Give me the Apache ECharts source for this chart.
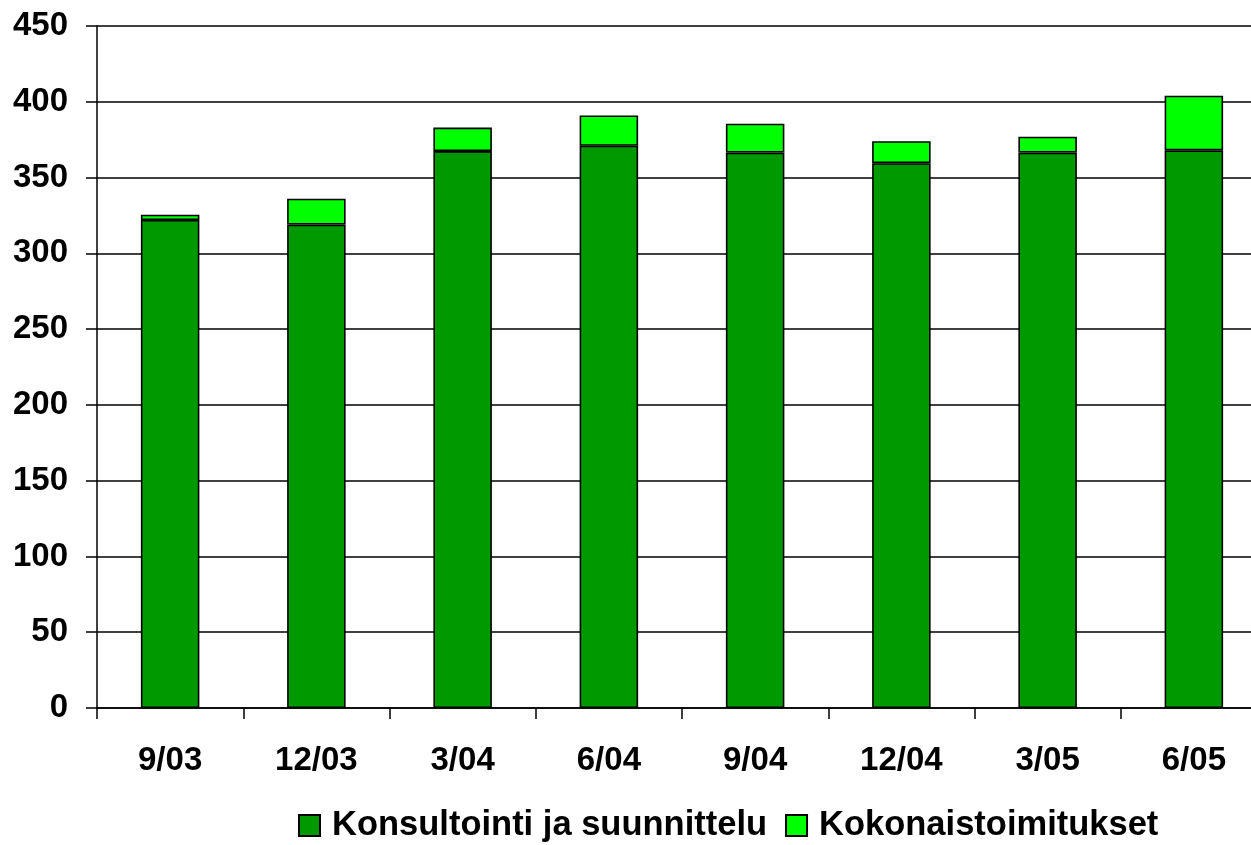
<!DOCTYPE html>
<html>
<head>
<meta charset="utf-8">
<script src="https://cdn.jsdelivr.net/npm/echarts@6/dist/echarts.min.js"></script>
<style>
  html, body { margin: 0; padding: 0; background: #fff; overflow: hidden; }
  #chart { width: 1267px; height: 845px; }
</style>
</head>
<body>
<div id="chart"></div>
<script>
const categories = ['9/03', '12/03', '3/04', '6/04', '9/04', '12/04', '3/05', '6/05']
const konsultointi = [322, 319, 367.5, 371, 366.5, 359.5, 366.5, 368]
const kokonais = [3.5, 17, 15.5, 20, 19, 14.5, 10.5, 36]
const yTicks = [0, 50, 100, 150, 200, 250, 300, 350, 400, 450]

const font = 'Liberation Sans, Arial, sans-serif'
const chart = echarts.init(document.getElementById('chart'))

// 柱子统一黑色描边
const barStyle = { borderColor: '#000', borderWidth: 1.6 }

chart.setOption({
  animation: false,
  grid: { left: 97, top: 26, right: 0, bottom: 137 },
  legend: {
    left: 298,
    top: 808,
    padding: 0,
    itemWidth: 21,
    itemHeight: 21,
    itemGap: 18,
    icon: 'rect',
    textStyle: {
      fontFamily: font, fontWeight: 'bold', fontSize: 34.5, color: '#000',
      padding: [0, 0, 0, 7]
    },
    data: ['Konsultointi ja suunnittelu', 'Kokonaistoimitukset']
  },
  xAxis: {
    type: 'category',
    data: categories,
    axisLine: { lineStyle: { color: '#000', width: 1.5 } },
    axisTick: { show: true, length: 11, lineStyle: { color: '#000', width: 1.5 } },
    axisLabel: { margin: 36, fontFamily: font, fontWeight: 'bold', fontSize: 33, color: '#000' }
  },
  yAxis: {
    type: 'value',
    min: yTicks[0],
    max: yTicks[yTicks.length - 1],
    interval: 50,
    axisLine: { show: true, lineStyle: { color: '#000', width: 1.5 } },
    axisTick: { show: true, length: 11, lineStyle: { color: '#000', width: 1.5 } },
    splitLine: { lineStyle: { color: '#000', width: 1.5 } },
    axisLabel: { margin: 29, fontFamily: font, fontWeight: 'bold', fontSize: 33, color: '#000' }
  },
  series: [
    {
      name: 'Konsultointi ja suunnittelu',
      type: 'bar',
      stack: 'total',
      barWidth: '40%',
      itemStyle: Object.assign({ color: '#009900' }, barStyle),
      data: konsultointi
    },
    {
      name: 'Kokonaistoimitukset',
      type: 'bar',
      stack: 'total',
      barWidth: '40%',
      itemStyle: Object.assign({ color: '#00ff00' }, barStyle),
      data: kokonais
    }
  ]
})
</script>
</body>
</html>
